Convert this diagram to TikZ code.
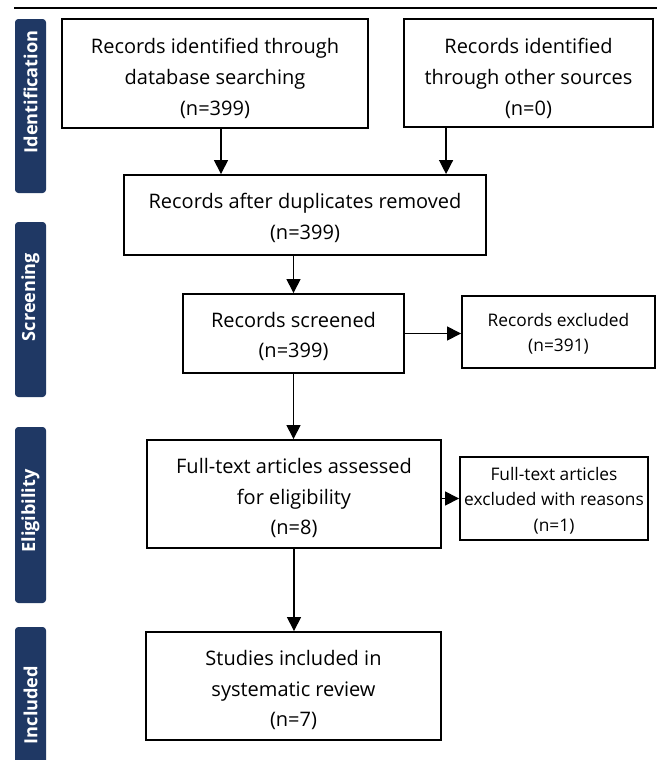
\documentclass[tikz,border=0pt]{standalone}
\usepackage{fontspec}
\setmainfont{Open Sans}
\usetikzlibrary{arrows.meta,calc}
\definecolor{navy}{RGB}{31,56,100}
\tikzset{
  sz/.style 2 args={minimum width=#1*0.75pt, minimum height=#2*0.75pt},
  box/.style={draw, line width=1.4pt, inner sep=0pt, fill=white},
  txt/.style={align=center, inner sep=0pt, font=\fontsize{15}{23.2}\selectfont},
  stxt/.style={txt, font=\fontsize{13}{19}\selectfont},
  bar/.style={fill=navy, rounded corners=2.5pt, inner sep=0pt},
  bartxt/.style={rotate=90, inner sep=0pt, text=white,
    font=\fontsize{13.6}{16}\selectfont\bfseries},
  arr/.style={line width=1pt, -{Triangle[length=10.5pt,width=10.5pt]}},
}
\begin{document}
\begin{tikzpicture}[x=0.75pt,y=-0.75pt]
\useasboundingbox (0,0) rectangle (657,760);
\clip (0,0) rectangle (657,760);
\fill[white] (0,0) rectangle (657,760);
\coordinate (tl) at (14,8);
\coordinate (tr) at (657,8);
\draw[line width=1.1pt] (tl) -- (tr);
% phase bars
\node[bar, sz={31}{174}] (pi) at (30.5,106) {};
\node[bar, sz={31}{175}] (ps) at (30.5,309.5) {};
\node[bar, sz={31}{176}] (pe) at (30.5,515) {};
\node[bar, sz={31}{176}] (pn) at (30.5,715) {};
\node[bartxt] (ti) at (30.5,92) {Identification};
\node[bartxt] (ts) at (30.5,297) {Screening};
\node[bartxt] (te) at (30.5,511) {Eligibility};
\node[bartxt] (tn) at (30.5,705) {Included};
% boxes
\node[box, sz={306}{109}] (b1) at (215,73.5) {};
\node[box, sz={249}{108}] (b2) at (528.5,73) {};
\node[box, sz={362}{80}] (b3) at (305,215) {};
\node[box, sz={221}{79}] (b4) at (293.5,333.5) {};
\node[box, sz={193}{72}] (b5) at (558.5,332) {};
\node[box, sz={294}{108}] (b6) at (294,494) {};
\node[box, sz={188}{83}] (b7) at (554,498.5) {};
\node[box, sz={295}{108}] (b8) at (293.5,686) {};
% texts
\node[txt] (t1) at ($(b1)+(0,5)$) {Records identified through\\database searching\\(n=399)};
\node[txt] (t2) at ($(b2)+(0,5)$) {Records identified\\through other sources\\(n=0)};
\node[txt] (t3) at ($(b3)+(0,3)$) {Records after duplicates removed\\(n=399)};
\node[txt] (t4) at ($(b4)+(0,3)$) {Records screened\\(n=399)};
\node[stxt] (t5) at ($(b5)+(0,2)$) {Records excluded\\(n=391)};
\node[txt] (t6) at ($(b6)+(0,4)$) {Full-text articles assessed\\for eligibility\\(n=8)};
\node[stxt] (t7) at ($(b7)+(0,2)$) {Full-text articles\\excluded with reasons\\(n=1)};
\node[txt] (t8) at ($(b8)+(0,4)$) {Studies included in\\systematic review\\(n=7)};
% connectors
\coordinate (a1) at ($(b1.south)+(6,0)$);
\coordinate (a2) at ($(b2.south west)+(43,0)$);
\draw[arr] (a1) -- (a1 |- b3.north);
\draw[arr] (a2) -- (a2 |- b3.north);
\draw[arr] (b3.south -| b4) -- (b4.north);
\draw[arr] (b4.east) -- (b4.east -| b5.west);
\draw[arr] (b4.south) -- (b4.south |- b6.north);
\draw[arr] (b6.east |- b7.west) -- (b7.west);
\draw[arr] (b6.south) -- (b6.south |- b8.north);
\end{tikzpicture}
\end{document}
